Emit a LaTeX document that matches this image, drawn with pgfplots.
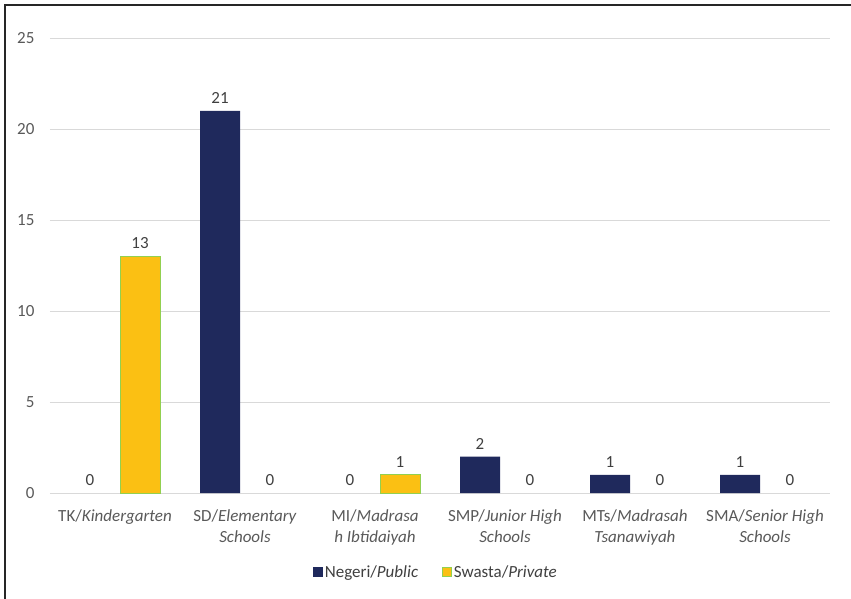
\documentclass[border=0pt]{standalone}
\usepackage{fontspec}
\setmainfont{Carlito}
\usepackage{pgfplots}
\pgfplotsset{compat=1.18}
\definecolor{negeri}{RGB}{31,41,92}
\definecolor{swasta}{RGB}{251,192,19}
\definecolor{swastaedge}{RGB}{146,208,80}
\definecolor{gridgray}{RGB}{217,217,217}
\definecolor{ticktext}{RGB}{89,89,89}
\definecolor{labeltext}{RGB}{64,64,64}
\newcommand{\chartfont}{\fontsize{17}{21}\selectfont}

\begin{document}
\begin{tikzpicture}
\path[use as bounding box] (-50pt,-105pt) rectangle (801pt,493pt);
\draw[line width=1.5pt, black!85] (-45pt,-110pt) -- (-45pt,488pt) -- (810pt,488pt);
\begin{axis}[
    at={(0pt,0pt)}, anchor=south west,
    scale only axis,
    width=780pt, height=455pt,
    ybar, bar width=40pt,
    xmin=-0.5, xmax=5.5,
    ymin=0, ymax=25,
    ytick={0,5,...,25},
    xtick={0,...,5},
    xticklabels={
        {TK/\textit{Kindergarten}},
        {SD/\textit{Elementary}\\\textit{Schools}},
        {MI/\textit{Madrasa}\\\textit{h Ibtidaiyah}},
        {SMP/\textit{Junior High}\\\textit{Schools}},
        {MTs/\textit{Madrasah}\\\textit{Tsanawiyah}},
        {SMA/\textit{Senior High}\\\textit{Schools}}},
    axis line style={draw=none},
    ymajorgrids, major grid style={gridgray, line width=0.8pt},
    major tick length=0pt,
    tick label style={font=\chartfont, text=ticktext},
    xticklabel style={align=center, yshift=-13pt},
    yticklabel style={xshift=-12pt},
    /pgf/number format/assume math mode=true,
    every node near coord/.append style={font=\chartfont, text=labeltext, yshift=4pt},
    legend style={at={(0.495,-0.174)}, anchor=center, draw=none, font=\chartfont,
        text=labeltext, /tikz/every even column/.append style={column sep=22pt}},
    legend columns=2,
    legend image code/.code={\draw[#1] (0pt,-4.5pt) rectangle (9pt,4.5pt);},
]
% Negeri / Public: value labels for every category, bars where non-zero
\addplot[draw=none, fill=none, bar shift=-25pt, nodes near coords, forget plot]
    coordinates {(0,0) (1,21) (2,0) (3,2) (4,1) (5,1)};
\addplot[fill=negeri, draw=none, bar shift=-25pt, forget plot]
    coordinates {(1,21) (3,2) (4,1) (5,1)};
% Swasta / Private
\addplot[draw=none, fill=none, bar shift=25pt, nodes near coords, forget plot]
    coordinates {(0,13) (1,0) (2,1) (3,0) (4,0) (5,0)};
\addplot[fill=swasta, draw=swastaedge, line width=0.8pt, bar shift=25pt, forget plot]
    coordinates {(0,13) (2,1)};
\addlegendimage{fill=negeri, draw=negeri}
\addlegendentry{Negeri/\textit{Public}}
\addlegendimage{fill=swasta, draw=swastaedge, line width=0.8pt}
\addlegendentry{Swasta/\textit{Private}}
\end{axis}
\end{tikzpicture}
\end{document}
